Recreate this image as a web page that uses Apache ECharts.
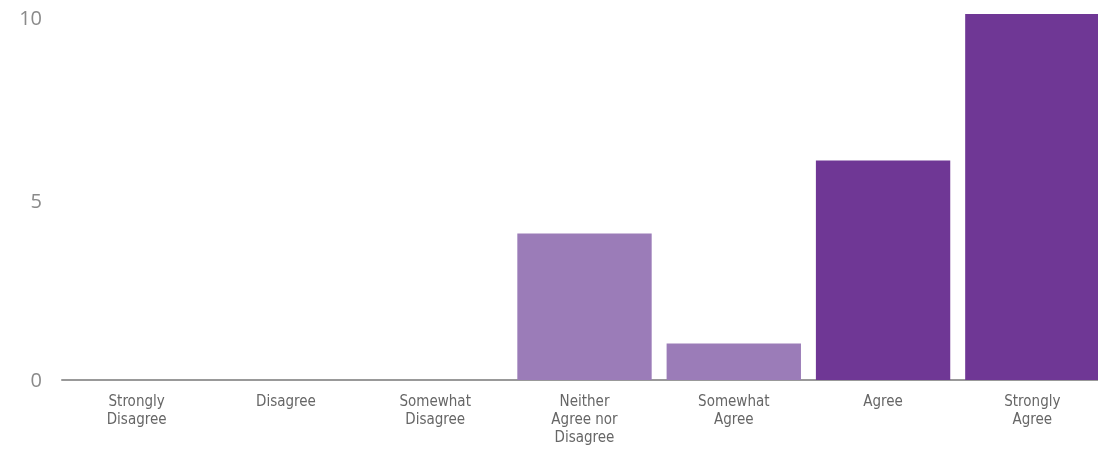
<!DOCTYPE html>
<html>
<head>
<meta charset="utf-8">
<script src="https://cdn.jsdelivr.net/npm/echarts@6/dist/echarts.min.js"></script>
<style>
html,body{margin:0;padding:0;background:#fff;overflow:hidden;width:1098px;height:450px;}
#chart{width:1107px;height:450px;}
</style>
</head>
<body>
<div id="chart"></div>
<script>
const categories = ["Strongly\nDisagree", "Disagree", "Somewhat\nDisagree", "Neither\nAgree nor\nDisagree", "Somewhat\nAgree", "Agree", "Strongly\nAgree"];
const values = [0, 0, 0, 4, 1, 6, 10];
const barColors = ["#9b7cb8", "#9b7cb8", "#9b7cb8", "#9b7cb8", "#9b7cb8", "#6f3795", "#6f3795"];
const yTicks = [0, 5, 10];

const chart = echarts.init(document.getElementById('chart'), null, {renderer: 'canvas'});
chart.setOption({
  animation: false,
  backgroundColor: '#ffffff',
  grid: {left: 62, right: 0, top: 14, bottom: 70, containLabel: false},
  xAxis: {
    type: 'category',
    data: categories,
    axisTick: {show: false},
    axisLine: {show: true, lineStyle: {color: '#999999', width: 2}},
    axisLabel: {
      interval: 0,
      margin: 13,
      color: '#666666',
      fontFamily: '"Liberation Sans Narrow", "DejaVu Sans Condensed", "Roboto", sans-serif',
      fontSize: 15,
      lineHeight: 18
    }
  },
  yAxis: {
    type: 'value',
    min: yTicks[0],
    max: yTicks[yTicks.length - 1],
    interval: 5,
    splitLine: {show: false},
    axisLine: {show: false},
    axisTick: {show: false},
    axisLabel: {
      margin: 20,
      color: '#8a8a8a',
      fontFamily: '"Open Sans", "Noto Sans", sans-serif',
      fontSize: 20,
      formatter: function (v) { return v === 0 ? '{z|' + v + '}' : '{s|' + v + '}'; },
      rich: {
        z: {color: '#8a8a8a', fontSize: 20, fontFamily: '"Open Sans", "Noto Sans", sans-serif', padding: [2, 0, 0, 0]},
        s: {color: '#8a8a8a', fontSize: 20, fontFamily: '"Open Sans", "Noto Sans", sans-serif', padding: [10, 0, 0, 0]}
      }
    }
  },
  series: [{
    type: 'bar',
    barCategoryGap: '10%',
    data: values.map(function (v, i) { return {value: v, itemStyle: {color: barColors[i]}}; })
  }]
});
</script>
</body>
</html>
